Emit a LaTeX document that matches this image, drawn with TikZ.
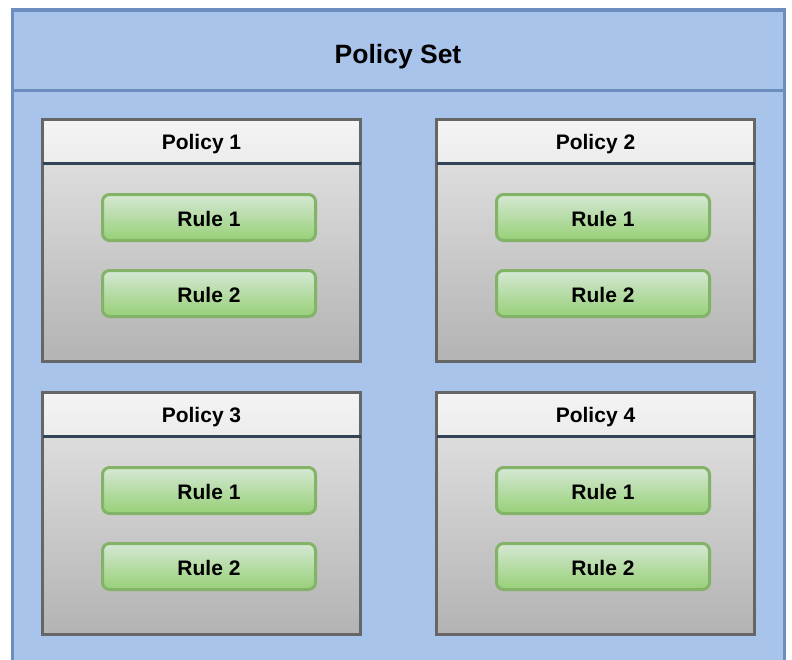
\documentclass[tikz,border=0pt]{standalone}
\usepackage{fontspec}
\setmainfont{Liberation Sans}
\definecolor{setfill}{HTML}{A9C4EB}
\definecolor{setline}{HTML}{6C8EBF}
\definecolor{boxline}{HTML}{666666}
\definecolor{headtop}{HTML}{F4F4F4}
\definecolor{headbot}{HTML}{ECECEC}
\definecolor{bodytop}{HTML}{E6E6E6}
\definecolor{bodybot}{HTML}{B3B3B3}
\definecolor{sepline}{HTML}{314354}
\definecolor{ruletop}{HTML}{D5E8D4}
\definecolor{rulebot}{HTML}{97D077}
\definecolor{ruleline}{HTML}{82B366}
\tikzset{
  labelfont/.style={font=\fontsize{21}{24}\selectfont\bfseries},
  policybody/.style={rectangle, inner sep=0pt, outer sep=0pt,
    minimum width=318pt, minimum height=242pt,
    top color=bodytop, bottom color=bodybot},
  policyhead/.style={rectangle, inner sep=0pt, outer sep=0pt,
    minimum width=318pt, minimum height=43.5pt,
    text height=16.5pt, text depth=0.5pt,
    top color=headtop, bottom color=headbot, labelfont},
  policyframe/.style={draw=boxline, line width=3.5pt},
  rulebox/.style={rectangle, rounded corners=7pt, inner sep=0pt, outer sep=0pt,
    minimum width=213pt, minimum height=46pt, line width=3pt,
    text height=17pt, text depth=0pt,
    draw=ruleline, top color=ruletop, bottom color=rulebot, labelfont},
}
\begin{document}
\begin{tikzpicture}[x=1pt, y=-1pt]
  \useasboundingbox (0,0) rectangle (792,659);
  \clip (0,0) rectangle (792,659);
  % outer container
  \node[rectangle, inner sep=0pt, outer sep=0pt, draw=setline, fill=setfill,
        line width=3.5pt, minimum width=772pt, minimum height=680pt,
        anchor=north west] (set) at (12.5,10) {};
  \coordinate (hl) at (12.5,90.5);
  \coordinate (hr) at (784.5,90.5);
  \draw[setline, line width=3.5pt] (hl) -- (hr);
  \node[font=\fontsize{26.5}{32}\selectfont\bfseries, inner sep=0pt, anchor=base]
        (title) at (398,63.3) {Policy Set};
  % four policies, each with two rules
  \foreach \i/\dx/\dy in {1/0/0, 2/394/0, 3/0/273, 4/394/273} {
    \node[policybody, anchor=north west] (p\i) at (42.5+\dx,119.5+\dy) {};
    \node[policyhead, anchor=north] (h\i) at (p\i.north) {Policy \i};
    \draw[policyframe] (p\i.north west) rectangle (p\i.south east);
    \draw[sepline, line width=3pt] (h\i.south west) -- (h\i.south east);
    \node[rulebox] (r\i a) at (209+\dx,217.5+\dy) {Rule 1};
    \node[rulebox] (r\i b) at (209+\dx,293.5+\dy) {Rule 2};
  }
\end{tikzpicture}
\end{document}
